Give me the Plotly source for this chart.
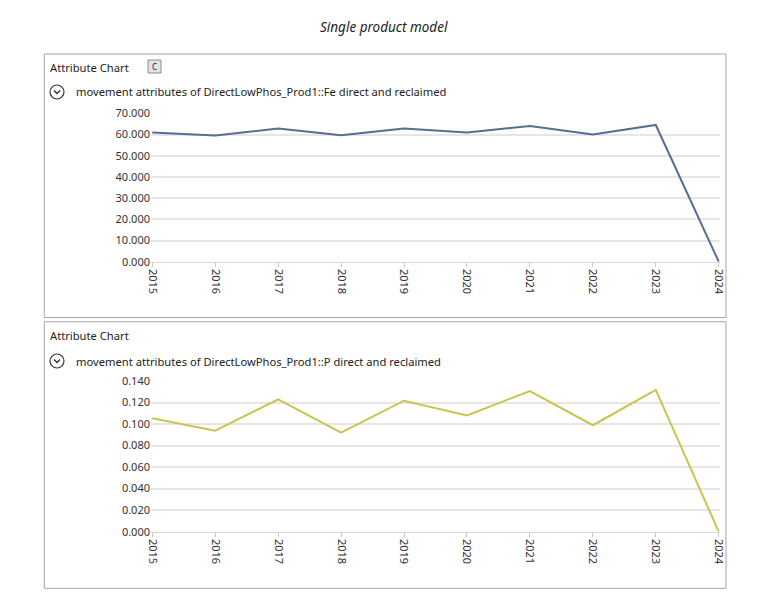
import plotly.graph_objects as go

years = ["2015", "2016", "2017", "2018", "2019", "2020", "2021", "2022", "2023", "2024"]
fe_values = [61.0, 59.5, 62.8, 59.6, 62.8, 61.0, 64.0, 60.0, 64.5, 0.0]
p_values = [0.1054, 0.0939, 0.1230, 0.0920, 0.1217, 0.1080, 0.1307, 0.0989, 0.1317, 0.0]

W, H = 768, 608
FONT = "Noto Sans"

def px(x):
    return x / W

def py(y):
    return 1 - y / H

fig = go.Figure()
fig.add_trace(go.Scatter(x=years, y=fe_values, mode="lines", line=dict(color="#566f90", width=2),
                         xaxis="x", yaxis="y", showlegend=False))
fig.add_trace(go.Scatter(x=years, y=p_values, mode="lines", line=dict(color="#c6c64e", width=2),
                         xaxis="x2", yaxis="y2", showlegend=False))

xdom = [px(151), px(720)]
common_x = dict(type="category", domain=xdom, tickangle=90, showgrid=False, showline=True, automargin=False,
                linecolor="#d9d9d9", linewidth=1, ticks="outside", ticklen=4, tickcolor="#c8c8c8",
                tickfont=dict(family=FONT, size=11, color="#333333"), fixedrange=True,
                range=[-0.02, 9.02])
common_y = dict(showgrid=True, gridcolor="#e6e6e6", gridwidth=2, zeroline=False, showline=False, automargin=False,
                ticks="", tickfont=dict(family=FONT, size=11, color="#333333"), fixedrange=True)

fig.update_layout(
    width=W, height=H, margin=dict(l=0, r=0, t=0, b=0, pad=0, autoexpand=False),
    paper_bgcolor="white", plot_bgcolor="white", showlegend=False,
    xaxis=dict(common_x, anchor="y"),
    yaxis=dict(common_y, domain=[py(261.7), py(113.3)], range=[0, 70], dtick=10, tickformat=".3f", anchor="x"),
    xaxis2=dict(common_x, anchor="y2"),
    yaxis2=dict(common_y, domain=[py(531.7), py(381)], range=[0, 0.14], dtick=0.02, tickformat=".3f", anchor="x2"),
)

shapes = []
for (y0, y1) in [(54, 317.5), (321.7, 588.3)]:
    shapes.append(dict(type="rect", xref="paper", yref="paper", x0=px(44.3), x1=px(726), y0=py(y1), y1=py(y0),
                       line=dict(color="#a6a6a6", width=1), fillcolor="rgba(0,0,0,0)", layer="below"))
shapes.append(dict(type="rect", xref="paper", yref="paper", x0=px(148), x1=px(161), y0=py(73), y1=py(60),
                   line=dict(color="#8c8c8c", width=1), fillcolor="#e3e3e3"))
for cy in [92, 361]:
    shapes.append(dict(type="circle", xref="paper", yref="paper", x0=px(50), x1=px(64), y0=py(cy + 7), y1=py(cy - 7),
                       line=dict(color="#333333", width=1.2)))
    shapes.append(dict(type="path", xref="paper", yref="paper",
                       path=f"M {px(54)} {py(cy - 1.5)} L {px(57)} {py(cy + 1.5)} L {px(60)} {py(cy - 1.5)}",
                       line=dict(color="#333333", width=1.5)))
fig.update_layout(shapes=shapes)

ann = []
ann.append(dict(text="<i>Single product model</i>", x=px(384), y=py(27), xref="paper", yref="paper",
                showarrow=False, font=dict(family=FONT, size=13.5, color="#222222"), xanchor="center", yanchor="middle"))
for ty in [67, 335]:
    ann.append(dict(text="Attribute Chart", x=px(48), y=py(ty), xref="paper", yref="paper", showarrow=False,
                    font=dict(family=FONT, size=11.2, color="#222222"), xanchor="left", yanchor="middle"))
ann.append(dict(text="C", x=px(154.5), y=py(66.5), xref="paper", yref="paper", showarrow=False,
                font=dict(family=FONT, size=8, color="#222222"), xanchor="center", yanchor="middle"))
ann.append(dict(text="movement attributes of DirectLowPhos_Prod1::Fe direct and reclaimed", x=px(74), y=py(92),
                xref="paper", yref="paper", showarrow=False, font=dict(family=FONT, size=11.2, color="#222222"),
                xanchor="left", yanchor="middle"))
ann.append(dict(text="movement attributes of DirectLowPhos_Prod1::P direct and reclaimed", x=px(74), y=py(361),
                xref="paper", yref="paper", showarrow=False, font=dict(family=FONT, size=11.2, color="#222222"),
                xanchor="left", yanchor="middle"))
fig.update_layout(annotations=ann)

fig.write_html("out.html")
